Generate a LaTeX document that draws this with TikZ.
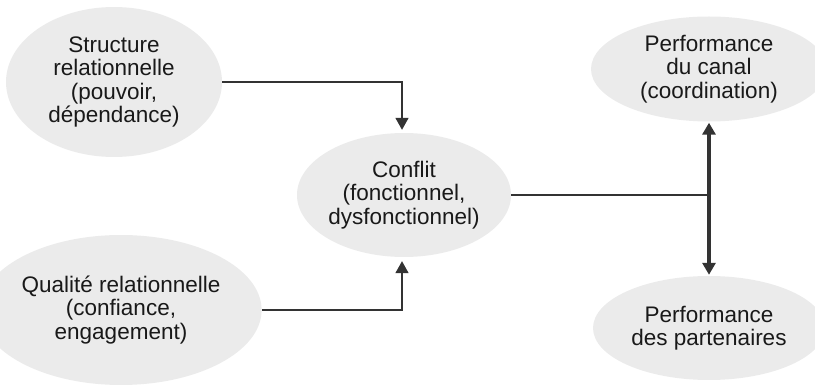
\documentclass[tikz,border=0pt]{standalone}
\usepackage{fontspec}
\setmainfont{Liberation Sans}
\usetikzlibrary{arrows.meta,positioning,calc,shapes.geometric}
\definecolor{inkgrey}{HTML}{333333}
\definecolor{blobfill}{HTML}{EBEBEB}
\tikzset{factor/.style={ellipse,fill=blobfill,inner sep=0pt,align=center,text=black!90,font=\fontsize{22.5}{23.4}\selectfont},link/.style={-{Triangle[length=12pt,width=13pt]},line width=1.6pt,draw=inkgrey},biglink/.style={{Triangle[length=12pt,width=13pt]}-{Triangle[length=12pt,width=13pt]},line width=3.2pt,draw=inkgrey},every picture/.style={line cap=butt}}

\begin{document}
\begin{tikzpicture}[x=1pt,y=1pt]
\useasboundingbox (0,0) rectangle (815,386);
\clip (0,0) rectangle (815,386);
\node[factor,minimum width=216pt,minimum height=150pt] (struct) at (114,304) {Structure\\relationnelle\\(pouvoir,\\dépendance)};
\node[factor,minimum width=218pt,minimum height=150pt] (qual) at (121,76) {Qualité relationnelle\\(confiance,\\engagement)};
\node[factor,minimum width=198pt,minimum height=124pt] (conflit) at (404,191) {Conflit\\(fonctionnel,\\dysfonctionnel)};
\node[factor,minimum width=236pt,minimum height=105pt] (canal) at (709,317) {Performance\\du canal\\(coordination)};
\node[factor,minimum width=232pt,minimum height=104pt] (part) at (709,58) {Performance\\des partenaires};
\coordinate (hub) at (canal.south |- conflit.east);
\draw[link,shorten >=3pt] (struct.east) -| ([xshift=-2pt]conflit.north);
\draw[link,shorten >=4pt] (qual.east) -| ([xshift=-2pt]conflit.south);
\draw[line width=1.6pt,draw=inkgrey] (conflit.east)--(hub);
\draw[biglink,shorten <=1pt,shorten >=1pt] (canal.south)--(part.north);
\end{tikzpicture}
\end{document}
